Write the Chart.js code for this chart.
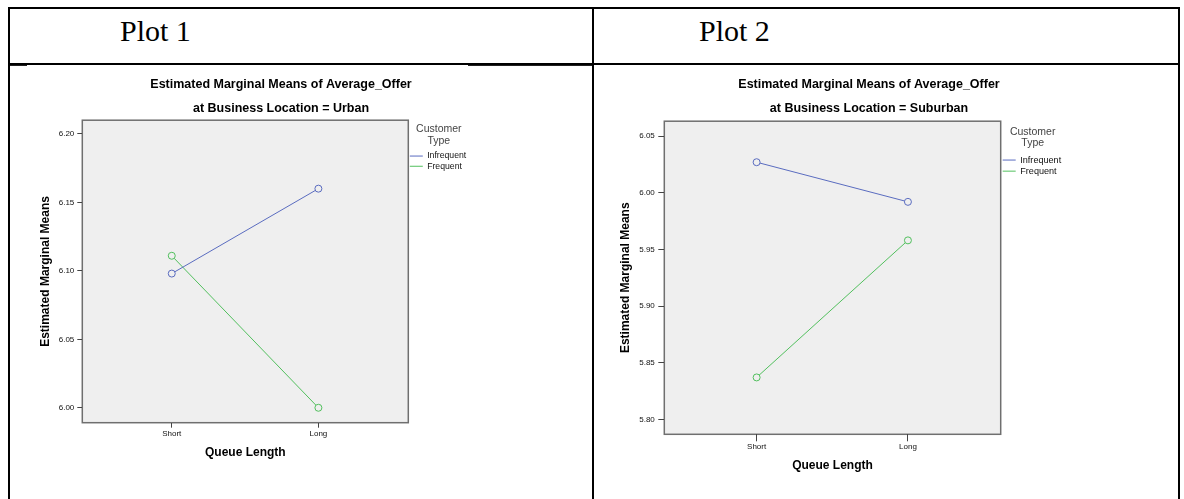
<!DOCTYPE html>
<html>
<head>
<meta charset="utf-8">
<title>Estimated Marginal Means of Average_Offer</title>
<script src="https://cdn.jsdelivr.net/npm/chart.js@4.4.1/dist/chart.umd.min.js"></script>
<style>
    html, body { margin: 0; padding: 0; background: #fff; }
    body { width: 1184px; height: 499px; position: relative; overflow: hidden; }
    .rule { position: absolute; background: #000; }
    .thin { position: absolute; background: #222; height: 1px; }
    .head { position: absolute; font-family: "Liberation Serif", "Times New Roman", serif; font-size: 30px; line-height: 30px; color: #000; white-space: nowrap; }
    canvas { position: absolute; }
</style>
</head>
<body>
<!-- table frame -->
<div class="rule" style="left:8px; top:7px; width:1172px; height:2px"></div>
<div class="rule" style="left:8px; top:7px; width:2px; height:492px"></div>
<div class="rule" style="left:592px; top:7px; width:2px; height:492px"></div>
<div class="rule" style="left:1178px; top:7px; width:2px; height:492px"></div>
<div class="rule" style="left:8px; top:63px; width:1172px; height:2px"></div>
<div class="thin" style="left:10px; top:65px; width:17px"></div>
<div class="thin" style="left:468px; top:65px; width:124px"></div>

<div class="head" style="left:120px; top:16px">Plot 1</div>
<div class="head" style="left:699px; top:16px">Plot 2</div>

<canvas id="plot1" width="580" height="425" style="left:9px; top:67px"></canvas>
<canvas id="plot2" width="580" height="428" style="left:596px; top:67px"></canvas>

<script>
const queueLengths = ['Short', 'Long'];
const customerTypes = ['Infrequent', 'Frequent'];

// Plot 1: Business Location = Urban
const urbanInfrequent = [6.098, 6.160];
const urbanFrequent = [6.111, 6.000];
const urbanTicks = [6.00, 6.05, 6.10, 6.15, 6.20];

// Plot 2: Business Location = Suburban
const suburbanInfrequent = [6.027, 5.992];
const suburbanFrequent = [5.837, 5.958];
const suburbanTicks = [5.80, 5.85, 5.90, 5.95, 6.00, 6.05];

const lineColors = ['#5a6cc0', '#52c05e'];

Chart.defaults.font.family = '"Liberation Sans", Arial, sans-serif';

// grey plot box like the SPSS output
const plotArea = {
    id: 'plotArea',
    beforeDraw(chart) {
        const { ctx, chartArea: { left, top, width, height } } = chart;
        ctx.save();
        ctx.fillStyle = '#efefef';
        ctx.fillRect(left, top, width, height);
        ctx.strokeStyle = '#6f6f6f';
        ctx.lineWidth = 1.5;
        ctx.strokeRect(left, top, width, height);
        ctx.restore();
    }
};

drawPlot('plot1', 'Urban', [urbanInfrequent, urbanFrequent], urbanTicks, {
    yMin: 5.9891, yMax: 6.2100,
    yWidth: 73.3, yTitlePad: 29.8, yTickLen: 5, yTickPad: 3,
    xHeight: 69.3, xTickLen: 5, xTickPad: 0.8, xTitlePad: 31.8,
    subPad: 4.5,
    legendWidth: 61, legendTop: 3.75, legendGap: 14.7, legendPad: 1.5, legendFont: 8.7,
    spacer: 83.7, padRight: 36
});

drawPlot('plot2', 'Suburban', [suburbanInfrequent, suburbanFrequent], suburbanTicks, {
    yMin: 5.7868, yMax: 6.0632,
    yWidth: 68.3, yTitlePad: 22.8, yTickLen: 6, yTickPad: 3.5,
    xHeight: 60.7, xTickLen: 7, xTickPad: 0.6, xTitlePad: 21.8,
    subPad: 5.5,
    legendWidth: 64, legendTop: 5.45, legendGap: 15.3, legendPad: 2, legendFont: 9.1,
    spacer: 77.3, padRight: 34
});

function drawPlot(id, location, series, yTicks, box) {
    const datasets = series.map((values, i) => ({
        label: customerTypes[i],
        data: values.map((v, j) => ({ x: j, y: v })),
        borderColor: lineColors[i],
        borderWidth: 1,
        pointRadius: 3.5,
        pointBorderWidth: 1,
        pointBorderColor: lineColors[i],
        pointBackgroundColor: '#efefef',
        tension: 0
    }));

    new Chart(document.getElementById(id), {
        type: 'line',
        data: { datasets },
        options: {
            responsive: false,
            animation: false,
            events: [],
            devicePixelRatio: 1,
            layout: { padding: { left: 0, top: 0, bottom: 0, right: box.padRight } },
            scales: {
                x: {
                    type: 'linear',
                    min: -0.61,
                    max: 1.613,
                    afterBuildTicks: s => { s.ticks = queueLengths.map((_, i) => ({ value: i })); },
                    afterFit: s => { s.height = box.xHeight; },
                    grid: { drawOnChartArea: false, tickLength: box.xTickLen, color: '#444' },
                    border: { display: false },
                    ticks: {
                        autoSkip: false, maxRotation: 0, padding: box.xTickPad,
                        color: '#111', font: { size: 8 },
                        callback: v => queueLengths[v]
                    },
                    title: {
                        display: true, text: 'Queue Length', color: '#000',
                        font: { size: 12, weight: 'bold' },
                        padding: { top: 0, bottom: box.xTitlePad }
                    }
                },
                y: {
                    min: box.yMin,
                    max: box.yMax,
                    afterBuildTicks: s => { s.ticks = yTicks.map(v => ({ value: v })); },
                    afterFit: s => { s.width = box.yWidth; },
                    grid: { drawOnChartArea: false, tickLength: box.yTickLen, color: '#444' },
                    border: { display: false },
                    ticks: {
                        padding: box.yTickPad, color: '#111', font: { size: 8 },
                        callback: v => v.toFixed(2)
                    },
                    title: {
                        display: true, text: 'Estimated Marginal Means', color: '#000',
                        font: { size: 12, weight: 'bold' },
                        padding: { top: box.yTitlePad, bottom: 0 }
                    }
                },
                // empty box on the right so the titles centre over the whole picture
                spacer: {
                    type: 'linear',
                    position: 'right',
                    weight: 2000,
                    grid: { display: false },
                    border: { display: false },
                    ticks: { display: false },
                    afterFit: s => { s.width = box.spacer; }
                }
            },
            plugins: {
                tooltip: { enabled: false },
                title: {
                    display: true,
                    text: 'Estimated Marginal Means of Average_Offer',
                    color: '#000',
                    font: { size: 12.5, weight: 'bold' },
                    padding: { top: 9.8, bottom: 0 }
                },
                subtitle: {
                    display: true,
                    text: 'at Business Location = ' + location,
                    color: '#000',
                    font: { size: 12.5, weight: 'bold' },
                    padding: { top: 8.9, bottom: box.subPad }
                },
                legend: {
                    position: 'right',
                    align: 'start',
                    fullSize: false,
                    maxWidth: box.legendWidth,
                    title: {
                        display: true,
                        text: ['Customer', 'Type'],
                        color: '#444',
                        font: { size: 10.5, lineHeight: 1.1 },
                        padding: { top: box.legendTop, bottom: box.legendGap }
                    },
                    labels: {
                        usePointStyle: true,
                        pointStyle: 'line',
                        pointStyleWidth: 13,
                        padding: box.legendPad,
                        color: '#111',
                        font: { size: box.legendFont }
                    }
                }
            }
        },
        plugins: [plotArea]
    });
}
</script>
</body>
</html>
